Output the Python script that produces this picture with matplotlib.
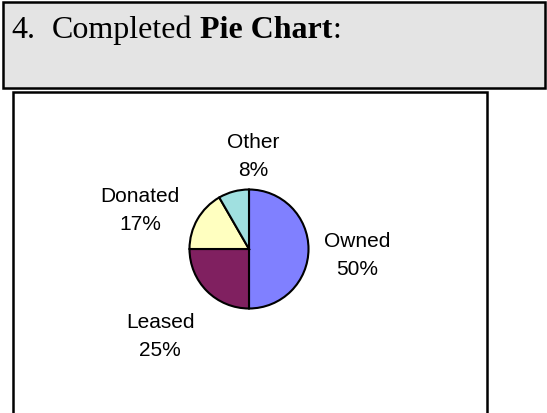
import matplotlib
matplotlib.use("Agg")
import matplotlib.pyplot as plt
from matplotlib.patches import Rectangle

# data
categories = ["Owned", "Leased", "Donated", "Other"]
counts = [6, 3, 2, 1]
colors = ["#8080ff", "#802060", "#ffffc0", "#a0e0e0"]

# layout (pixels from the top-left corner): centre x and cap top of each label
label_pos = {"Owned": (357, 232), "Leased": (160, 313),
             "Donated": (140, 187), "Other": (253, 133)}

W, H = 547, 414
fig = plt.figure(figsize=(W / 100, H / 100), dpi=100)
ax = fig.add_axes([0, 0, 1, 1])

# header box and the chart frame below it
ax.add_patch(Rectangle((3.2, H - 88.5), 541.6, 85.3, facecolor="#e4e4e4",
                       edgecolor="black", linewidth=1.8))
ax.add_patch(Rectangle((13.3, -20), 473.7, H - 92.5 + 20, facecolor="white",
                       edgecolor="black", linewidth=1.8))

wedges, _ = ax.pie(counts, colors=colors, startangle=90, counterclock=False,
                   center=(249, H - 250), radius=59.5,
                   wedgeprops=dict(edgecolor="black", linewidth=1.5))
ax.set_xlim(0, W)
ax.set_ylim(0, H)
ax.set_aspect("equal")
ax.axis("off")

total = sum(counts)
for name, c in zip(categories, counts):
    x, top = label_pos[name]
    pct = round(100 * c / total)
    ax.text(x, H - top, f"{name}\n{pct}%", ha="center", va="top",
            fontfamily="Liberation Sans", fontsize=15, linespacing=1.6)

# header text: regular / bold / regular pieces laid out side by side
serif = dict(fontfamily="Liberation Serif", fontsize=23, va="baseline")
renderer = fig.canvas.get_renderer()
probe1 = ax.text(0, 0, "aa", **serif)
probe2 = ax.text(0, 0, "a a", **serif)
space = (probe2.get_window_extent(renderer).width
         - probe1.get_window_extent(renderer).width)
probe1.remove()
probe2.remove()

x = 11.5
base = H - 38.3
for s, weight, gap in [("4.", "normal", 2), ("Completed", "normal", 1),
                       ("Pie Chart", "bold", 0), (":", "normal", 0)]:
    t = ax.text(x, base, s, fontweight=weight, **serif)
    x = t.get_window_extent(renderer).x1 + gap * space

fig.savefig("out.png", dpi=100)
